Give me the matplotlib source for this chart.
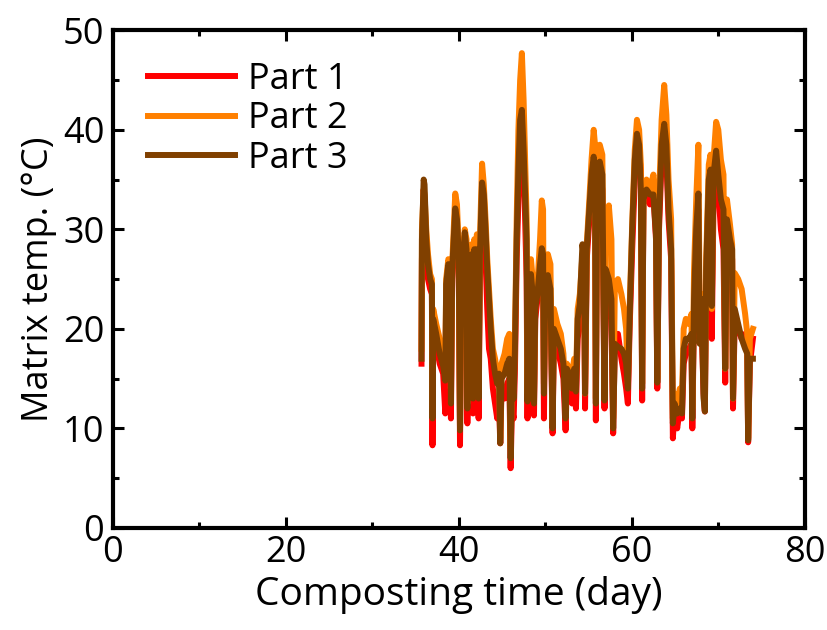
import matplotlib
matplotlib.use("Agg")
import matplotlib.pyplot as plt
from matplotlib.ticker import MultipleLocator

plt.rcParams['font.family'] = ['Open Sans', 'DejaVu Sans']

# composting time (day) and matrix temperature of the three parts
days = [35.70, 35.75, 35.95, 36.05, 36.25, 36.45, 36.70, 36.90, 36.97, 37.05,
        37.40, 37.80, 38.20, 38.45, 38.55, 38.80, 39.00, 39.10, 39.25, 39.60,
        39.80, 40.00, 40.15, 40.30, 40.70, 40.90, 41.00, 41.15, 41.35, 41.50,
        41.65, 41.80, 41.95, 42.10, 42.30, 42.45, 42.70, 42.90, 43.10, 43.30,
        43.50, 43.70, 43.95, 44.20, 44.45, 44.65, 44.80, 44.95, 45.30, 45.60,
        45.85, 46.00, 46.15, 46.35, 46.50, 46.70, 46.90, 47.10, 47.30, 47.50,
        47.70, 47.85, 47.95, 48.10, 48.35, 48.55, 48.70, 48.85, 49.10, 49.40,
        49.60, 49.75, 49.85, 50.00, 50.30, 50.60, 50.85, 51.00, 51.40, 51.80,
        52.10, 52.35, 52.50, 52.80, 53.10, 53.35, 53.55, 53.75, 54.00, 54.30,
        54.50, 54.60, 54.80, 55.10, 55.35, 55.60, 55.75, 55.85, 56.00, 56.30,
        56.60, 56.85, 57.00, 57.35, 57.65, 57.85, 58.05, 58.40, 58.80, 59.10,
        59.35, 59.55, 59.75, 60.05, 60.35, 60.60, 60.85, 61.05, 61.20, 61.35,
        61.70, 62.10, 62.50, 62.80, 62.95, 63.15, 63.45, 63.75, 64.00, 64.25,
        64.55, 64.75, 64.95, 65.25, 65.55, 65.80, 66.00, 66.25, 66.60, 66.90,
        67.00, 67.20, 67.45, 67.70, 67.85, 68.05, 68.30, 68.45, 68.60, 68.90,
        69.10, 69.25, 69.45, 69.75, 70.00, 70.30, 70.60, 70.80, 71.00, 71.35,
        71.60, 71.70, 71.90, 72.30, 72.70, 73.10, 73.35, 73.45, 73.65, 74.00]

part1 = [16.5, 27.0, 34.0, 33.0, 28.0, 25.0, 24.0, 23.5, 8.3, 20.0,
         18.5, 16.5, 15.5, 11.5, 24.0, 26.0, 25.5, 11.0, 25.0, 31.0,
         30.0, 27.0, 8.3, 24.0, 29.0, 27.0, 10.5, 26.0, 14.0, 26.0,
         11.5, 27.0, 15.0, 27.0, 11.0, 26.0, 33.5, 32.0, 27.0, 22.0,
         18.0, 17.0, 14.0, 12.5, 11.0, 13.0, 8.5, 14.0, 13.0, 14.5,
         15.0, 6.0, 12.0, 11.0, 16.0, 27.0, 33.0, 38.0, 40.0, 37.0,
         30.0, 25.0, 11.0, 23.0, 24.0, 23.0, 11.3, 21.0, 23.0, 25.0,
         27.0, 26.0, 11.0, 23.0, 25.0, 23.0, 9.5, 19.0, 18.0, 16.5,
         15.0, 9.8, 15.0, 13.5, 12.5, 15.0, 12.0, 19.0, 21.0, 26.0,
         25.0, 12.0, 27.0, 31.0, 34.0, 36.0, 35.0, 10.8, 33.0, 36.0,
         34.0, 12.0, 25.0, 24.0, 21.0, 9.5, 19.0, 19.5, 17.0, 15.5,
         14.0, 12.5, 20.0, 28.0, 35.0, 38.0, 37.5, 36.0, 12.8, 33.0,
         33.5, 32.5, 33.5, 29.0, 14.0, 30.0, 37.0, 39.5, 37.0, 31.0,
         27.0, 9.0, 12.0, 10.0, 12.0, 11.0, 16.5, 17.5, 18.0, 18.5,
         10.0, 22.0, 28.0, 32.0, 19.0, 21.0, 13.5, 11.7, 25.0, 34.0,
         35.0, 19.0, 33.0, 36.5, 34.0, 30.0, 28.0, 14.6, 29.0, 28.5,
         27.0, 12.0, 21.0, 20.0, 19.0, 19.5, 18.0, 8.6, 16.5, 19.0]

part2 = [18.0, 30.0, 34.0, 33.5, 30.0, 27.5, 25.5, 25.0, 12.0, 22.0,
         20.5, 19.0, 17.0, 15.5, 25.0, 27.0, 26.5, 14.0, 26.5, 33.6,
         32.5, 28.0, 10.0, 25.0, 30.0, 29.0, 12.5, 27.5, 16.5, 28.5,
         14.0, 29.0, 17.5, 29.5, 14.5, 29.0, 36.6, 34.5, 31.0, 27.0,
         24.0, 21.0, 18.0, 17.0, 15.5, 16.0, 9.0, 16.5, 17.5, 19.0,
         19.5, 8.0, 14.5, 14.0, 19.0, 31.0, 40.0, 45.0, 47.7, 43.0,
         36.0, 31.0, 13.5, 26.0, 27.0, 25.0, 13.5, 23.0, 24.5, 29.0,
         32.9, 32.0, 14.5, 25.0, 27.5, 26.5, 10.5, 22.0, 20.5, 19.5,
         17.5, 12.0, 16.5, 16.0, 15.5, 17.0, 14.5, 22.0, 23.5, 27.5,
         26.5, 13.5, 28.5, 33.0, 37.0, 40.0, 38.5, 13.0, 37.0, 38.5,
         37.5, 14.0, 30.0, 32.4, 29.0, 11.0, 24.5, 25.0, 23.5, 22.0,
         20.0, 14.5, 22.0, 30.5, 38.0, 41.0, 40.0, 36.5, 14.5, 34.0,
         35.0, 34.0, 35.5, 31.0, 15.0, 33.0, 41.0, 44.5, 41.5, 35.0,
         31.0, 11.0, 13.5, 12.5, 14.0, 13.0, 20.0, 21.0, 20.5, 21.5,
         12.0, 26.0, 33.0, 38.5, 21.0, 23.5, 15.0, 14.0, 27.0, 36.5,
         37.5, 22.0, 37.0, 40.8, 40.0, 37.0, 35.5, 16.0, 33.0, 30.5,
         28.5, 13.0, 25.6, 25.0, 24.0, 21.5, 19.5, 9.0, 19.0, 20.0]

part3 = [17.0, 29.0, 35.0, 34.5, 29.0, 26.5, 25.0, 24.5, 11.0, 21.0,
         19.5, 17.5, 16.3, 14.8, 24.5, 26.5, 26.0, 12.5, 26.0, 32.1,
         31.0, 27.5, 9.8, 24.5, 29.7, 28.0, 12.0, 26.5, 15.5, 27.5,
         13.0, 28.0, 17.0, 28.0, 13.0, 27.5, 34.7, 33.5, 30.0, 26.0,
         23.0, 20.0, 17.0, 15.5, 14.5, 15.5, 8.5, 15.0, 15.5, 16.5,
         17.0, 7.0, 14.5, 13.0, 18.0, 29.0, 36.0, 41.0, 42.0, 38.0,
         33.0, 29.0, 12.7, 24.0, 25.5, 23.5, 12.5, 22.0, 23.5, 26.5,
         28.1, 27.5, 13.5, 24.0, 25.4, 24.0, 10.0, 20.0, 19.0, 18.0,
         16.5, 11.0, 16.0, 15.5, 14.0, 16.0, 13.7, 21.0, 22.5, 28.5,
         27.0, 13.5, 28.0, 32.0, 35.5, 37.3, 36.0, 12.5, 34.0, 36.8,
         35.5, 12.8, 26.0, 25.0, 23.0, 10.0, 18.5, 18.2, 18.0, 17.5,
         16.5, 14.0, 21.0, 30.0, 37.0, 39.6, 38.5, 34.0, 14.0, 33.0,
         34.0, 33.5, 33.5, 29.5, 14.6, 31.0, 38.5, 40.6, 38.5, 32.0,
         28.0, 10.5, 12.5, 11.5, 12.0, 11.5, 18.0, 19.0, 19.0, 19.5,
         11.0, 23.0, 30.0, 33.6, 18.5, 23.0, 13.0, 11.7, 26.0, 35.0,
         36.0, 22.3, 35.5, 37.9, 35.5, 33.0, 32.0, 16.0, 31.0, 29.0,
         28.0, 13.0, 22.0, 20.5, 19.0, 18.0, 17.5, 8.8, 17.0, 17.0]

labels = ['Part 1', 'Part 2', 'Part 3']
colors = ['#ff0000', '#ff8000', '#804000']

fig = plt.figure(figsize=(8.28, 6.3), dpi=100)
ax = fig.add_axes([0.136, 0.162, 0.836, 0.79])

for ys, lab, c in zip([part1, part2, part3], labels, colors):
    ax.plot(days, ys, color=c, linewidth=4.3, label=lab, solid_joinstyle='round')

ax.set_xlim(0, 80)
ax.set_ylim(0, 50)
ax.xaxis.set_major_locator(MultipleLocator(20))
ax.xaxis.set_minor_locator(MultipleLocator(10))
ax.yaxis.set_major_locator(MultipleLocator(10))
ax.yaxis.set_minor_locator(MultipleLocator(5))
ax.tick_params(which='both', direction='in', top=True, right=True, width=2.2,
               labelsize=26)
ax.tick_params(axis='x', which='major', pad=5)
ax.tick_params(axis='y', which='major', pad=6)
ax.tick_params(which='major', length=8)
ax.tick_params(which='minor', length=4)
for s in ax.spines.values():
    s.set_linewidth(3)

ax.set_xlabel('Composting time (day)', fontsize=28, labelpad=4)
ax.set_ylabel('Matrix temp. (°C)', fontsize=26, labelpad=4)

ax.legend(loc='upper left', bbox_to_anchor=(0.01, 0.995), frameon=False, fontsize=26,
          handlelength=2.4, handletextpad=0.35, labelspacing=0.1, borderaxespad=0.4)

fig.savefig('out.png', dpi=100)
